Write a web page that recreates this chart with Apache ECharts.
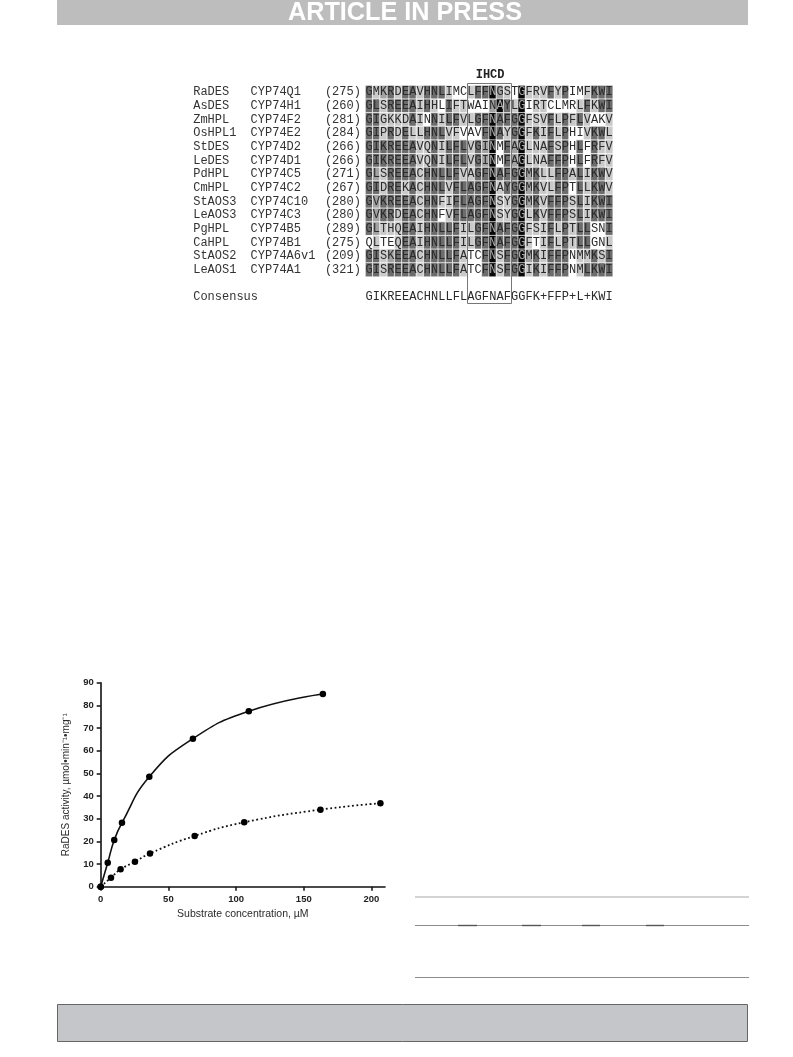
<!DOCTYPE html>
<html>
<head>
<meta charset="utf-8">
<title>RaDES alignment and kinetics</title>
<script src="https://cdn.jsdelivr.net/npm/echarts@6/dist/echarts.min.js"></script>
<style>
  html, body { margin: 0; padding: 0; background: #ffffff; }
  #page { width: 793px; height: 1057px; }
</style>
</head>
<body>
<div id="page"></div>
<script>
// ---- Alignment of CYP74 sequences around the IHCD motif ----
const enzymes = ['RaDES', 'AsDES', 'ZmHPL', 'OsHPL1', 'StDES', 'LeDES', 'PdHPL', 'CmHPL',
                 'StAOS3', 'LeAOS3', 'PgHPL', 'CaHPL', 'StAOS2', 'LeAOS1'];
const cypNames = ['CYP74Q1', 'CYP74H1', 'CYP74F2', 'CYP74E2', 'CYP74D2', 'CYP74D1', 'CYP74C5',
                  'CYP74C2', 'CYP74C10', 'CYP74C3', 'CYP74B5', 'CYP74B1', 'CYP74A6v1', 'CYP74A1'];
const startPositions = [275, 260, 281, 284, 266, 266, 271, 267, 280, 280, 289, 275, 209, 321];
const residues = [
  'GMKRDEAVHNLIMCLFFNGSTGFRVFYPIMFKWI',
  'GLSREEAIHHLIFTWAINAYLGIRTCLMRLFKWI',
  'GIGKKDAINNILFVLGFNAFGGFSVFLPFLVAKV',
  'GIPRDELLHNLVFVAVFNAYGGFKIFLPHIVKWL',
  'GIKREEAVQNILFLVGINMFAGLNAFSPHLFRFV',
  'GIKREEAVQNILFLVGINMFAGLNAFFPHLFRFV',
  'GLSREEACHNLLFVAGFNAFGGMKLLFPALIKWV',
  'GIDREKACHNLVFLAGFNAYGGMKVLFPTLLKWV',
  'GVKREEACHNFIFLAGFNSYGGMKVFFPSLIKWI',
  'GVKRDEACHNFVFLAGFNSYGGLKVFFPSLIKWI',
  'GLTHQEAIHNLLFILGFNAFGGFSIFLPTLLSNI',
  'QLTEQEAIHNLLFILGFNAFGGFTIFLPTLLGNL',
  'GISKEEACHNLLFATCFNSFGGMKIFFPNMMKSI',
  'GISREEACHNLLFATCFNSFGGIKIFFPNMLKWI'
];
// conservation class per residue: 0 none, 1 weak, 2 similar, 3 conserved, 4 identical
const conservation = [
  '3123133133310013342104111313001333',
  '3313333131031100024314011000013133',
  '3311113103133113343334111313131001',
  '3313131133311000343134131313001331',
  '3333333113133313240324111313030311',
  '3333333113133313240324111333030311',
  '3213333133333113343334231133131331',
  '3313313133313333341334231133031331',
  '3233333133113333341134231333131333',
  '3233133133013333341134131333131333',
  '3211133133333113343334111313133003',
  '0100133133333113343334101313133001',
  '3312333133333100341334231333011313',
  '3313333133333100341334131333013333'
];
const consensus = 'GIKREEACHNLLFLAGFNAFGGFK+FFP+L+KWI';
const motifName = 'IHCD';
const motifColumns = [14, 19];

// ---- Michaelis-Menten kinetics of RaDES (two substrates) ----
const substrateSolid = [0, 5.2, 10.0, 15.7, 35.9, 68.1, 109.4, 164.1];
const activitySolid  = [0, 10.6, 20.6, 28.2, 48.5, 65.3, 77.4, 85.0];
const substrateDotted = [0, 7.6, 14.7, 25.3, 36.4, 69.4, 106.0, 162.3, 206.6];
const activityDotted  = [0, 4.0, 7.7, 11.0, 14.7, 22.4, 28.4, 34.0, 36.8];
const xTicks = [0, 50, 100, 150, 200];

const mono = 'Liberation Mono, Courier New, monospace';
const sans = 'Liberation Sans, Arial, Helvetica, sans-serif';

// rows of the alignment block: 14 sequences, a spacer, the consensus line
const rowKeys = enzymes.concat(['', 'Consensus']);
const consensusRow = rowKeys.length - 1;

const alignCells = [];
residues.forEach((seq, r) => {
  for (let c = 0; c < seq.length; c++) {
    const lvl = +conservation[r][c];
    const item = { value: [c, r, lvl] };
    if (lvl === 4) item.label = { color: '#a8a8a8' };
    alignCells.push(item);
  }
});
for (let c = 0; c < consensus.length; c++) {
  alignCells.push({ value: [c, consensusRow, 0] });
}

const chart = echarts.init(document.getElementById('page'), null, { renderer: 'canvas', width: 793, height: 1057 });

const pageGraphics = [
  // running header
  { type: 'rect', id: 'hdr', shape: { x: 57, y: 0, width: 691, height: 25 }, style: { fill: '#bdbdbd' }, silent: true },
  { type: 'text', id: 'hdrText', x: 405, y: 26, scaleX: 0.97,
    style: { text: 'ARTICLE IN PRESS', fill: '#ffffff', font: 'bold 26px ' + sans, textAlign: 'center', textVerticalAlign: 'bottom' } },
  // table rules
  { type: 'line', id: 'rule1', shape: { x1: 415, y1: 897, x2: 749, y2: 897 }, style: { stroke: '#c6c6c6', lineWidth: 1.5 } },
  { type: 'line', id: 'rule2', shape: { x1: 415, y1: 925.5, x2: 749, y2: 925.5 }, style: { stroke: '#8c8c8c', lineWidth: 1.2 } },
  { type: 'line', id: 'rule2a', shape: { x1: 458, y1: 925.5, x2: 477, y2: 925.5 }, style: { stroke: '#555555', lineWidth: 1.4 } },
  { type: 'line', id: 'rule2b', shape: { x1: 522, y1: 925.5, x2: 541, y2: 925.5 }, style: { stroke: '#555555', lineWidth: 1.4 } },
  { type: 'line', id: 'rule2c', shape: { x1: 582, y1: 925.5, x2: 600, y2: 925.5 }, style: { stroke: '#555555', lineWidth: 1.4 } },
  { type: 'line', id: 'rule2d', shape: { x1: 646, y1: 925.5, x2: 664, y2: 925.5 }, style: { stroke: '#555555', lineWidth: 1.4 } },
  { type: 'line', id: 'rule3', shape: { x1: 415, y1: 977.5, x2: 749, y2: 977.5 }, style: { stroke: '#8c8c8c', lineWidth: 1.2 } },
  // footer box
  { type: 'rect', id: 'ftr', shape: { x: 57.5, y: 1004.5, width: 690, height: 37 }, style: { fill: '#c5c6c9', stroke: '#666666', lineWidth: 1 } }
];

const option = {
  animation: false,
  backgroundColor: '#ffffff',
  textStyle: { fontFamily: sans },
  grid: [
    { left: 365.5, top: 85.5, width: 247.2, height: 218.4 },
    { left: 100.7, top: 682.7, width: 284.3, height: 204 }
  ],
  xAxis: [
    { gridIndex: 0, type: 'category', data: consensus.split('').map((_, i) => i),
      show: false },
    { gridIndex: 1, type: 'value', min: 0, max: 210, interval: 50,
      name: 'Substrate concentration, µM', nameLocation: 'middle', nameGap: 22,
      nameTextStyle: { fontFamily: sans, fontSize: 10.5, color: '#2a2a2a' },
      axisLine: { show: true, onZero: false, lineStyle: { color: '#111', width: 1.6 } },
      axisTick: { show: true, length: 4, customValues: xTicks, lineStyle: { color: '#111', width: 1.5 } },
      axisLabel: { customValues: xTicks, margin: 8, fontFamily: sans, fontWeight: 'bold', fontSize: 9.5, color: '#222' },
      splitLine: { show: false } }
  ],
  yAxis: [
    { gridIndex: 0, type: 'category', inverse: true, data: rowKeys,
      axisLine: { show: false }, axisTick: { show: false },
      axisLabel: {
        interval: 0, align: 'left', margin: 172.3,
        fontFamily: mono, fontSize: 12, color: '#333',
        formatter: (value, idx) => idx < enzymes.length
          ? '{n|' + enzymes[idx] + '}{c|' + cypNames[idx] + '}{p|(' + startPositions[idx] + ')}'
          : '{n|' + value + '}',
        rich: {
          n: { width: 57.4, fontFamily: mono, fontSize: 12, color: '#333' },
          c: { width: 74.3, fontFamily: mono, fontSize: 12, color: '#333' },
          p: { fontFamily: mono, fontSize: 12, color: '#333' }
        }
      } },
    { gridIndex: 1, type: 'value', min: 0, max: 90, interval: 10,
      name: 'RaDES activity, µmol•min⁻¹•mg⁻¹', nameLocation: 'middle', nameGap: 29,
      nameTextStyle: { fontFamily: sans, fontSize: 10, color: '#2a2a2a' },
      axisLine: { show: true, onZero: false, lineStyle: { color: '#111', width: 1.6 } },
      axisTick: { show: true, length: 4, lineStyle: { color: '#111', width: 1.5 } },
      axisLabel: { margin: 7, fontFamily: sans, fontWeight: 'bold', fontSize: 9.5, color: '#222' },
      splitLine: { show: false } }
  ],
  visualMap: {
    type: 'piecewise', show: false, dimension: 2, seriesIndex: 0,
    pieces: [
      { value: 0, color: '#ffffff' },
      { value: 1, color: '#c9c9c9' },
      { value: 2, color: '#a2a2a2' },
      { value: 3, color: '#6c6c6c' },
      { value: 4, color: '#080808' }
    ]
  },
  series: [
    { type: 'heatmap', xAxisIndex: 0, yAxisIndex: 0, data: alignCells,
      itemStyle: { borderColor: '#ffffff', borderWidth: 0.7 },
      emphasis: { disabled: true },
      label: {
        show: true, fontFamily: mono, fontSize: 12, color: '#2b2b2b',
        formatter: p => p.value[1] === consensusRow ? consensus[p.value[0]] : residues[p.value[1]][p.value[0]]
      } },
    { type: 'line', xAxisIndex: 1, yAxisIndex: 1,
      data: substrateSolid.map((s, i) => [s, activitySolid[i]]),
      smooth: 0.5,
      symbol: 'circle', symbolSize: 6.5,
      itemStyle: { color: '#000' },
      lineStyle: { color: '#111', width: 1.6 },
      emphasis: { disabled: true }, z: 3 },
    { type: 'line', xAxisIndex: 1, yAxisIndex: 1,
      data: substrateDotted.map((s, i) => [s, activityDotted[i]]),
      smooth: 0.5,
      symbol: 'circle', symbolSize: 6.5,
      itemStyle: { color: '#000' },
      lineStyle: { color: '#111', width: 1.8, type: [1.8, 2.6] },
      emphasis: { disabled: true }, z: 3 }
  ],
  graphic: pageGraphics
};

chart.setOption(option);

// outline of the motif columns, positioned on the alignment axes
const a = chart.convertToPixel({ xAxisIndex: 0, yAxisIndex: 0 }, [motifColumns[0], 0]);
const b = chart.convertToPixel({ xAxisIndex: 0, yAxisIndex: 0 }, [motifColumns[1], consensusRow]);
const nxt = chart.convertToPixel({ xAxisIndex: 0, yAxisIndex: 0 }, [motifColumns[0] + 1, 1]);
const cellW = nxt[0] - a[0];
const cellH = nxt[1] - a[1];
const boxLeft = a[0] - cellW / 2;
const boxRight = b[0] + cellW / 2;
const boxTop = a[1] - cellH / 2 - 2.3;
const boxBottom = b[1] + cellH / 2 - 0.5;

chart.setOption({
  graphic: pageGraphics.concat([
    { type: 'rect', id: 'motifBox',
      shape: { x: Math.round(boxLeft) + 0.5, y: Math.round(boxTop) + 0.5,
               width: Math.round(boxRight - boxLeft), height: Math.round(boxBottom - boxTop) },
      style: { fill: 'none', stroke: '#777777', lineWidth: 1 }, z: 10 },
    { type: 'text', id: 'motifLabel', x: (boxLeft + boxRight) / 2 + 1, y: boxTop - 8,
      style: { text: motifName, fill: '#222', font: 'bold 12px ' + mono, textAlign: 'center', textVerticalAlign: 'middle' }, z: 10 }
  ])
});
</script>
</body>
</html>
